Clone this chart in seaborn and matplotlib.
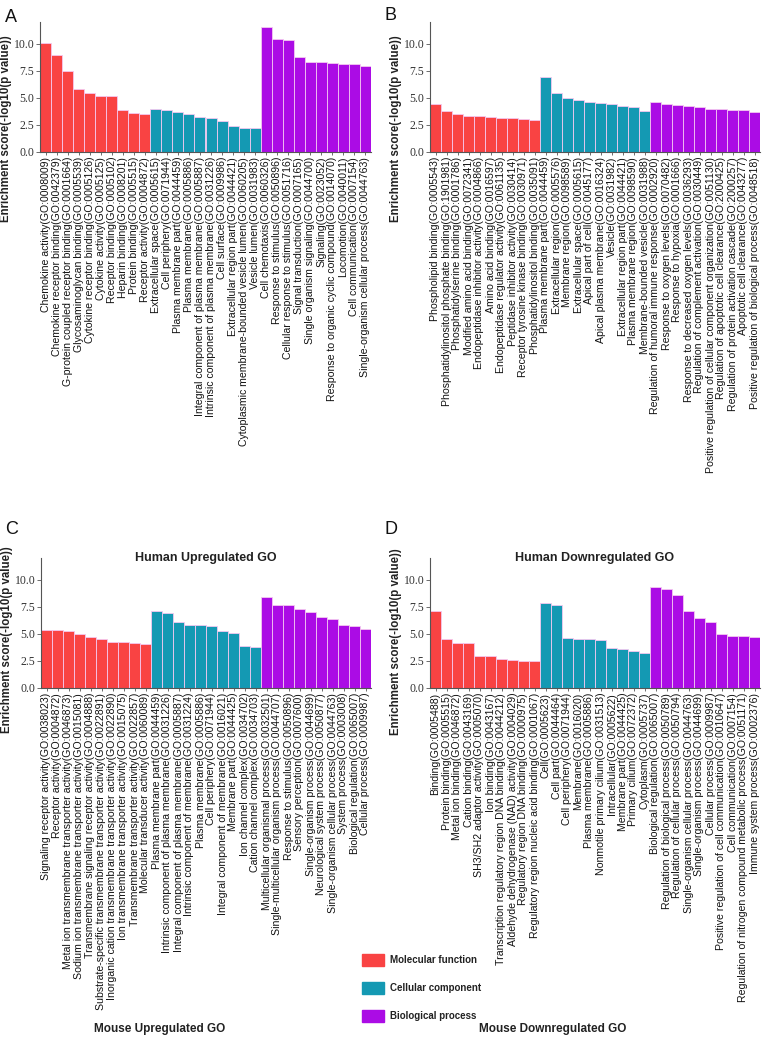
import matplotlib
matplotlib.use("Agg")
import matplotlib.pyplot as plt
import numpy as np
import pandas as pd
import seaborn as sns

sns.set_style("ticks")
plt.rcParams["font.family"] = ["Liberation Sans", "DejaVu Sans"]

categories = ["Molecular function", "Cellular component", "Biological process"]
colors = ["#F94343", "#1499B3", "#AB0CE5"]

# panel A - mouse upregulated
a_terms = [
    "Chemokine activity(GO:0008009)", "Chemokine receptor binding(GO:0042379)",
    "G-protein coupled receptor binding(GO:0001664)", "Glycosaminoglycan binding(GO:0005539)",
    "Cytokine receptor binding(GO:0005126)", "Cytokine activity(GO:0005125)",
    "Receptor binding(GO:0005102)", "Heparin binding(GO:0008201)",
    "Protein binding(GO:0005515)", "Receptor activity(GO:0004872)",
    "Extracellular space(GO:0005615)", "Cell periphery(GO:0071944)",
    "Plasma membrane part(GO:0044459)", "Plasma membrane(GO:0005886)",
    "Integral component of plasma membrane(GO:0005887)",
    "Intrinsic component of plasma membrane(GO:0031226)",
    "Cell surface(GO:0009986)", "Extracellular region part(GO:0044421)",
    "Cytoplasmic membrane-bounded vesicle lumen(GO:0060205)", "Vesicle lumen(GO:0031983)",
    "Cell chemotaxis(GO:0060326)", "Response to stimulus(GO:0050896)",
    "Cellular response to stimulus(GO:0051716)", "Signal transduction(GO:0007165)",
    "Single organism signaling(GO:0044700)", "Signaling(GO:0023052)",
    "Response to organic cyclic compound(GO:0014070)", "Locomotion(GO:0040011)",
    "Cell communication(GO:0007154)", "Single-organism cellular process(GO:0044763)",
]
a_scores = [10.09, 9.0, 7.5, 5.85, 5.49, 5.21, 5.15, 3.87, 3.6, 3.48,
            4.0, 3.84, 3.66, 3.48, 3.26, 3.11, 2.84, 2.38, 2.26, 2.23,
            11.55, 10.43, 10.34, 8.75, 8.32, 8.32, 8.26, 8.14, 8.08, 7.96]

# panel B - mouse downregulated
b_terms = [
    "Phospholipid binding(GO:0005543)", "Phosphatidylinositol phosphate binding(GO:1901981)",
    "Phosphatidylserine binding(GO:0001786)", "Modified amino acid binding(GO:0072341)",
    "Endopeptidase inhibitor activity(GO:0004866)", "Amino acid binding(GO:0016597)",
    "Endopeptidase regulator activity(GO:0061135)", "Peptidase inhibitor activity(GO:0030414)",
    "Receptor tyrosine kinase binding(GO:0030971)", "Phosphatidylinositol binding(GO:0035091)",
    "Plasma membrane part(GO:0044459)", "Extracellular region(GO:0005576)",
    "Membrane region(GO:0098589)", "Extracellular space(GO:0005615)",
    "Apical part of cell(GO:0045177)", "Apical plasma membrane(GO:0016324)",
    "Vesicle(GO:0031982)", "Extracellular region part(GO:0044421)",
    "Plasma membrane region(GO:0098590)", "Membrane-bounded vesicle(GO:0031988)",
    "Regulation of humoral immune response(GO:0002920)", "Response to oxygen levels(GO:0070482)",
    "Response to hypoxia(GO:0001666)", "Response to decreased oxygen levels(GO:0036293)",
    "Regulation of complement activation(GO:0030449)",
    "Positive regulation of cellular component organization(GO:0051130)",
    "Regulation of apoptotic cell clearance(GO:2000425)",
    "Regulation of protein activation cascade(GO:2000257)",
    "Apoptotic cell clearance(GO:0043277)",
    "Positive regulation of biological process(GO:0048518)",
]
b_scores = [4.39, 3.75, 3.54, 3.32, 3.29, 3.2, 3.17, 3.11, 3.02, 2.96,
            6.95, 5.46, 4.97, 4.76, 4.6, 4.54, 4.45, 4.21, 4.12, 3.78,
            4.63, 4.42, 4.3, 4.27, 4.12, 3.99, 3.99, 3.87, 3.87, 3.66]

# panel C - human upregulated
c_terms = [
    "Signaling receptor activity(GO:0038023)", "Receptor activity(GO:0004872)",
    "Metal ion transmembrane transporter activity(GO:0046873)",
    "Sodium ion transmembrane transporter activity(GO:0015081)",
    "Transmembrane signaling receptor activity(GO:0004888)",
    "Substrate-specific transmembrane transporter activity(GO:0022891)",
    "Inorganic cation transmembrane transporter activity(GO:0022890)",
    "Ion transmembrane transporter activity(GO:0015075)",
    "Transmembrane transporter activity(GO:0022857)",
    "Molecular transducer activity(GO:0060089)",
    "Plasma membrane part(GO:0044459)", "Intrinsic component of plasma membrane(GO:0031226)",
    "Integral component of plasma membrane(GO:0005887)",
    "Intrinsic component of membrane(GO:0031224)", "Plasma membrane(GO:0005886)",
    "Cell periphery(GO:0071944)", "Integral component of membrane(GO:0016021)",
    "Membrane part(GO:0044425)", "Ion channel complex(GO:0034702)",
    "Cation channel complex(GO:0034703)",
    "Multicellular organismal process(GO:0032501)",
    "Single-multicellular organism process(GO:0044707)",
    "Response to stimulus(GO:0050896)", "Sensory perception(GO:0007600)",
    "Single-organism process(GO:0044699)", "Neurological system process(GO:0050877)",
    "Single-organism cellular process(GO:0044763)", "System process(GO:0003008)",
    "Biological regulation(GO:0065007)", "Cellular process(GO:0009987)",
]
c_scores = [5.37, 5.37, 5.28, 5.03, 4.72, 4.48, 4.29, 4.26, 4.2, 4.04,
            7.1, 6.88, 6.08, 5.86, 5.77, 5.74, 5.22, 5.09, 3.86, 3.8,
            8.4, 7.69, 7.62, 7.31, 7.04, 6.57, 6.39, 5.77, 5.68, 5.43]

# panel D - human downregulated
d_terms = [
    "Binding(GO:0005488)", "Protein binding(GO:0005515)", "Metal ion binding(GO:0046872)",
    "Cation binding(GO:0043169)", "SH3/SH2 adaptor activity(GO:0005070)",
    "Ion binding(GO:0043167)", "Transcription regulatory region DNA binding(GO:0044212)",
    "Aldehyde dehydrogenase (NAD) activity(GO:0004029)",
    "Regulatory region DNA binding(GO:0000975)",
    "Regulatory region nucleic acid binding(GO:0001067)",
    "Cell(GO:0005623)", "Cell part(GO:0044464)", "Cell periphery(GO:0071944)",
    "Membrane(GO:0016020)", "Plasma membrane(GO:0005886)",
    "Nonmotile primary cilium(GO:0031513)", "Intracellular(GO:0005622)",
    "Membrane part(GO:0044425)", "Primary cilium(GO:0072372)", "Cytoplasm(GO:0005737)",
    "Biological regulation(GO:0065007)", "Regulation of biological process(GO:0050789)",
    "Regulation of cellular process(GO:0050794)",
    "Single-organism cellular process(GO:0044763)", "Single-organism process(GO:0044699)",
    "Cellular process(GO:0009987)", "Positive regulation of cell communication(GO:0010647)",
    "Cell communication(GO:0007154)",
    "Regulation of nitrogen compound metabolic process(GO:0051171)",
    "Immune system process(GO:0002376)",
]
d_scores = [7.09, 4.51, 4.17, 4.11, 2.98, 2.94, 2.64, 2.55, 2.45, 2.45,
            7.85, 7.67, 4.63, 4.54, 4.48, 4.39, 3.68, 3.59, 3.44, 3.25,
            9.33, 9.17, 8.56, 7.12, 6.47, 6.13, 4.97, 4.82, 4.79, 4.69]

groups = [c for c in categories for _ in range(10)]

W, H = 766, 1043
fig = plt.figure(figsize=(W / 100, H / 100), dpi=100)


def px_axes(x0, y0, x1, y1):
    return fig.add_axes([x0 / W, 1 - y1 / H, (x1 - x0) / W, (y1 - y0) / H])


panels = [
    ("A", a_terms, a_scores, None, (40, 22, 371, 152), (5, 18), 0.18),
    ("B", b_terms, b_scores, None, (430, 22, 760, 152), (385, 15), 0.18),
    ("C", c_terms, c_scores, "Human Upregulated GO", (41, 558, 371, 688), (5, 530), 0.37),
    ("D", d_terms, d_scores, "Human Downregulated GO", (430, 558, 760, 688), (385, 530), 0.36),
]

for letter, terms, scores, title, box, lpos, ylab_y in panels:
    ax = px_axes(*box)
    df = pd.DataFrame({"term": terms, "score": scores, "group": groups})
    sns.barplot(data=df, x="term", y="score", hue="group", hue_order=categories,
                palette=colors, dodge=False, width=1.0, saturation=1,
                edgecolor="#f4c8f0", linewidth=0.6, legend=False, ax=ax)
    ax.set_xlim(-0.5, len(terms) - 0.5)
    ax.set_ylim(0, 12)
    ax.set_yticks([0, 2.5, 5, 7.5, 10])
    ax.set_yticklabels(["0.0", "2.5", "5.0", "7.5", "10.0"],
                       family="Liberation Serif", fontsize=8.5, color="#333333")
    ax.set_xticks(range(len(terms)))
    ax.set_xticklabels(terms, rotation=90, fontsize=7.6, color="#111111")
    ax.tick_params(axis="x", length=2.5, pad=1, color="#555555", width=0.6)
    ax.tick_params(axis="y", length=3, pad=1, color="#555555", width=0.6)
    ax.set_xlabel("")
    ax.set_ylabel("Enrichment score(-log10(p value))", fontsize=8.3,
                  fontweight="bold", color="#222222")
    ax.yaxis.set_label_coords(-0.085, ylab_y)
    for s in ["top", "right"]:
        ax.spines[s].set_visible(False)
    for s in ["left", "bottom"]:
        ax.spines[s].set_color("#555555")
        ax.spines[s].set_linewidth(0.8)
    if title:
        ax.text(0.5, 1.0, title, transform=ax.transAxes, ha="center", va="center",
                fontsize=9, fontweight="bold", color="#222222")
    fig.text(lpos[0] / W, 1 - lpos[1] / H, letter, fontsize=13, ha="left",
             va="center", color="#111111")

# shared legend and bottom captions
for i, (cat, col) in enumerate(zip(categories, colors)):
    y = 960 + i * 28
    fig.patches.append(plt.Rectangle((362 / W, 1 - (y + 6) / H), 22 / W, 12 / H,
                                     transform=fig.transFigure, color=col))
    fig.text(390 / W, 1 - y / H, cat, fontsize=7, fontweight="bold",
             ha="left", va="center", color="#222222")

fig.text(160 / W, 1 - 1029 / H, "Mouse Upregulated GO", fontsize=8.5,
         fontweight="bold", ha="center", va="center", color="#222222")
fig.text(553 / W, 1 - 1029 / H, "Mouse Downregulated GO", fontsize=8.5,
         fontweight="bold", ha="center", va="center", color="#222222")

fig.savefig("out.png", dpi=100)
